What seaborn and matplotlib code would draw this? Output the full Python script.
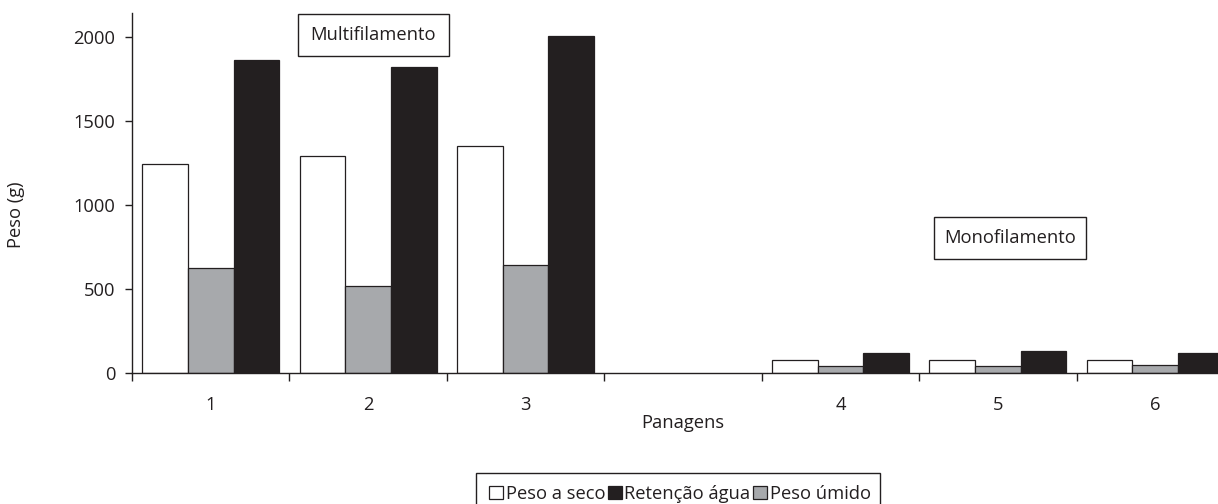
import numpy as np
import pandas as pd
import matplotlib
matplotlib.use("Agg")
import matplotlib.pyplot as plt
from matplotlib.patches import Rectangle, Patch
import seaborn as sns

# Panagens (nets); the empty slot separates multifilament from monofilament
panagens = ["1", "2", "3", "", "4", "5", "6"]
panagens_medidas = ["1", "2", "3", "4", "5", "6"]
peso_seco = [1245, 1290, 1352, 80, 80, 80]
peso_umido = [625, 520, 642, 44, 44, 47]
retencao_agua = [1865, 1821, 2006, 118, 135, 118]
series = ["Peso a seco", "Peso úmido", "Retenção água"]
ordem_legenda = ["Peso a seco", "Retenção água", "Peso úmido"]
y_ticks = [0, 500, 1000, 1500, 2000]

df = pd.DataFrame({
    "Panagem": panagens_medidas * len(series),
    "Série": np.repeat(series, len(panagens_medidas)),
    "Peso": peso_seco + peso_umido + retencao_agua,
})

INK = "#231f20"
cores = {"Peso a seco": "#ffffff", "Peso úmido": "#a7a9ac", "Retenção água": INK}
FS = 13.2

sns.set_style("ticks")
plt.rcParams["font.family"] = ["Open Sans", "DejaVu Sans"]
plt.rcParams["text.color"] = INK

W, H = 1218, 504
fig = plt.figure(figsize=(W / 100, H / 100), dpi=100)
ax = fig.add_axes([132 / W, 1 - 373.3 / H, 1102 / W, 360 / H])

sns.barplot(data=df, x="Panagem", y="Peso", hue="Série", order=panagens,
            hue_order=series, palette=cores, width=0.87, saturation=1,
            edgecolor=INK, linewidth=0.9, errorbar=None, legend=False, ax=ax)

ax.set_xlim(-0.5, len(panagens) - 0.5)
ax.set_ylim(0, 2140)
ax.set_xlabel("")
ax.set_ylabel("")
for s in ("top", "right"):
    ax.spines[s].set_visible(False)
for s in ("left", "bottom"):
    ax.spines[s].set_color(INK)
    ax.spines[s].set_linewidth(1.0)

# tick marks between groups, labels centred in each slot
ax.set_xticks(np.arange(-0.5, len(panagens)), labels=[""] * (len(panagens) + 1))
ax.set_xticks(np.arange(len(panagens)), labels=panagens, minor=True)
ax.tick_params(axis="x", which="major", direction="out", length=5.8, width=1, color=INK)
ax.tick_params(axis="x", which="minor", length=0, pad=16, labelsize=FS, labelcolor=INK)
ax.set_yticks(y_ticks)
ax.tick_params(axis="y", direction="out", length=5, width=1, color=INK, pad=7,
               labelsize=FS, labelcolor=INK)

fig.text(16 / W, 1 - 215 / H, "Peso (g)", rotation=90, ha="center", va="center",
         fontsize=FS, color=INK)
fig.text(683 / W, 1 - 423 / H, "Panagens", ha="center", va="center",
         fontsize=FS, color=INK)


def caixa(x0, y0, x1, y1, texto):
    fig.add_artist(Rectangle((x0 / W, 1 - y1 / H), (x1 - x0) / W, (y1 - y0) / H,
                             transform=fig.transFigure, facecolor="white",
                             edgecolor=INK, linewidth=1.0, clip_on=False))
    fig.text((x0 + x1) / 2 / W, 1 - (y0 + y1) / 2 / H, texto, ha="center",
             va="center", fontsize=FS, color=INK)


caixa(298, 14, 449, 56, "Multifilamento")
caixa(934, 217, 1086, 259, "Monofilamento")

# legend frame runs off the bottom edge
fig.add_artist(Rectangle((476 / W, 1 - 512 / H), (880 - 476) / W, (512 - 473) / H,
                         transform=fig.transFigure, facecolor="white",
                         edgecolor=INK, linewidth=1.0, clip_on=False))
handles = [Patch(facecolor=cores[s], edgecolor=INK, linewidth=0.9) for s in ordem_legenda]
fig.legend(handles, ordem_legenda, ncol=3, loc="center",
           bbox_to_anchor=(680 / W, 1 - 494 / H), frameon=False, fontsize=FS,
           handlelength=0.75, handleheight=0.75, handletextpad=0.15,
           columnspacing=0.15, borderpad=0, borderaxespad=0)

fig.savefig("out.png", dpi=100)
